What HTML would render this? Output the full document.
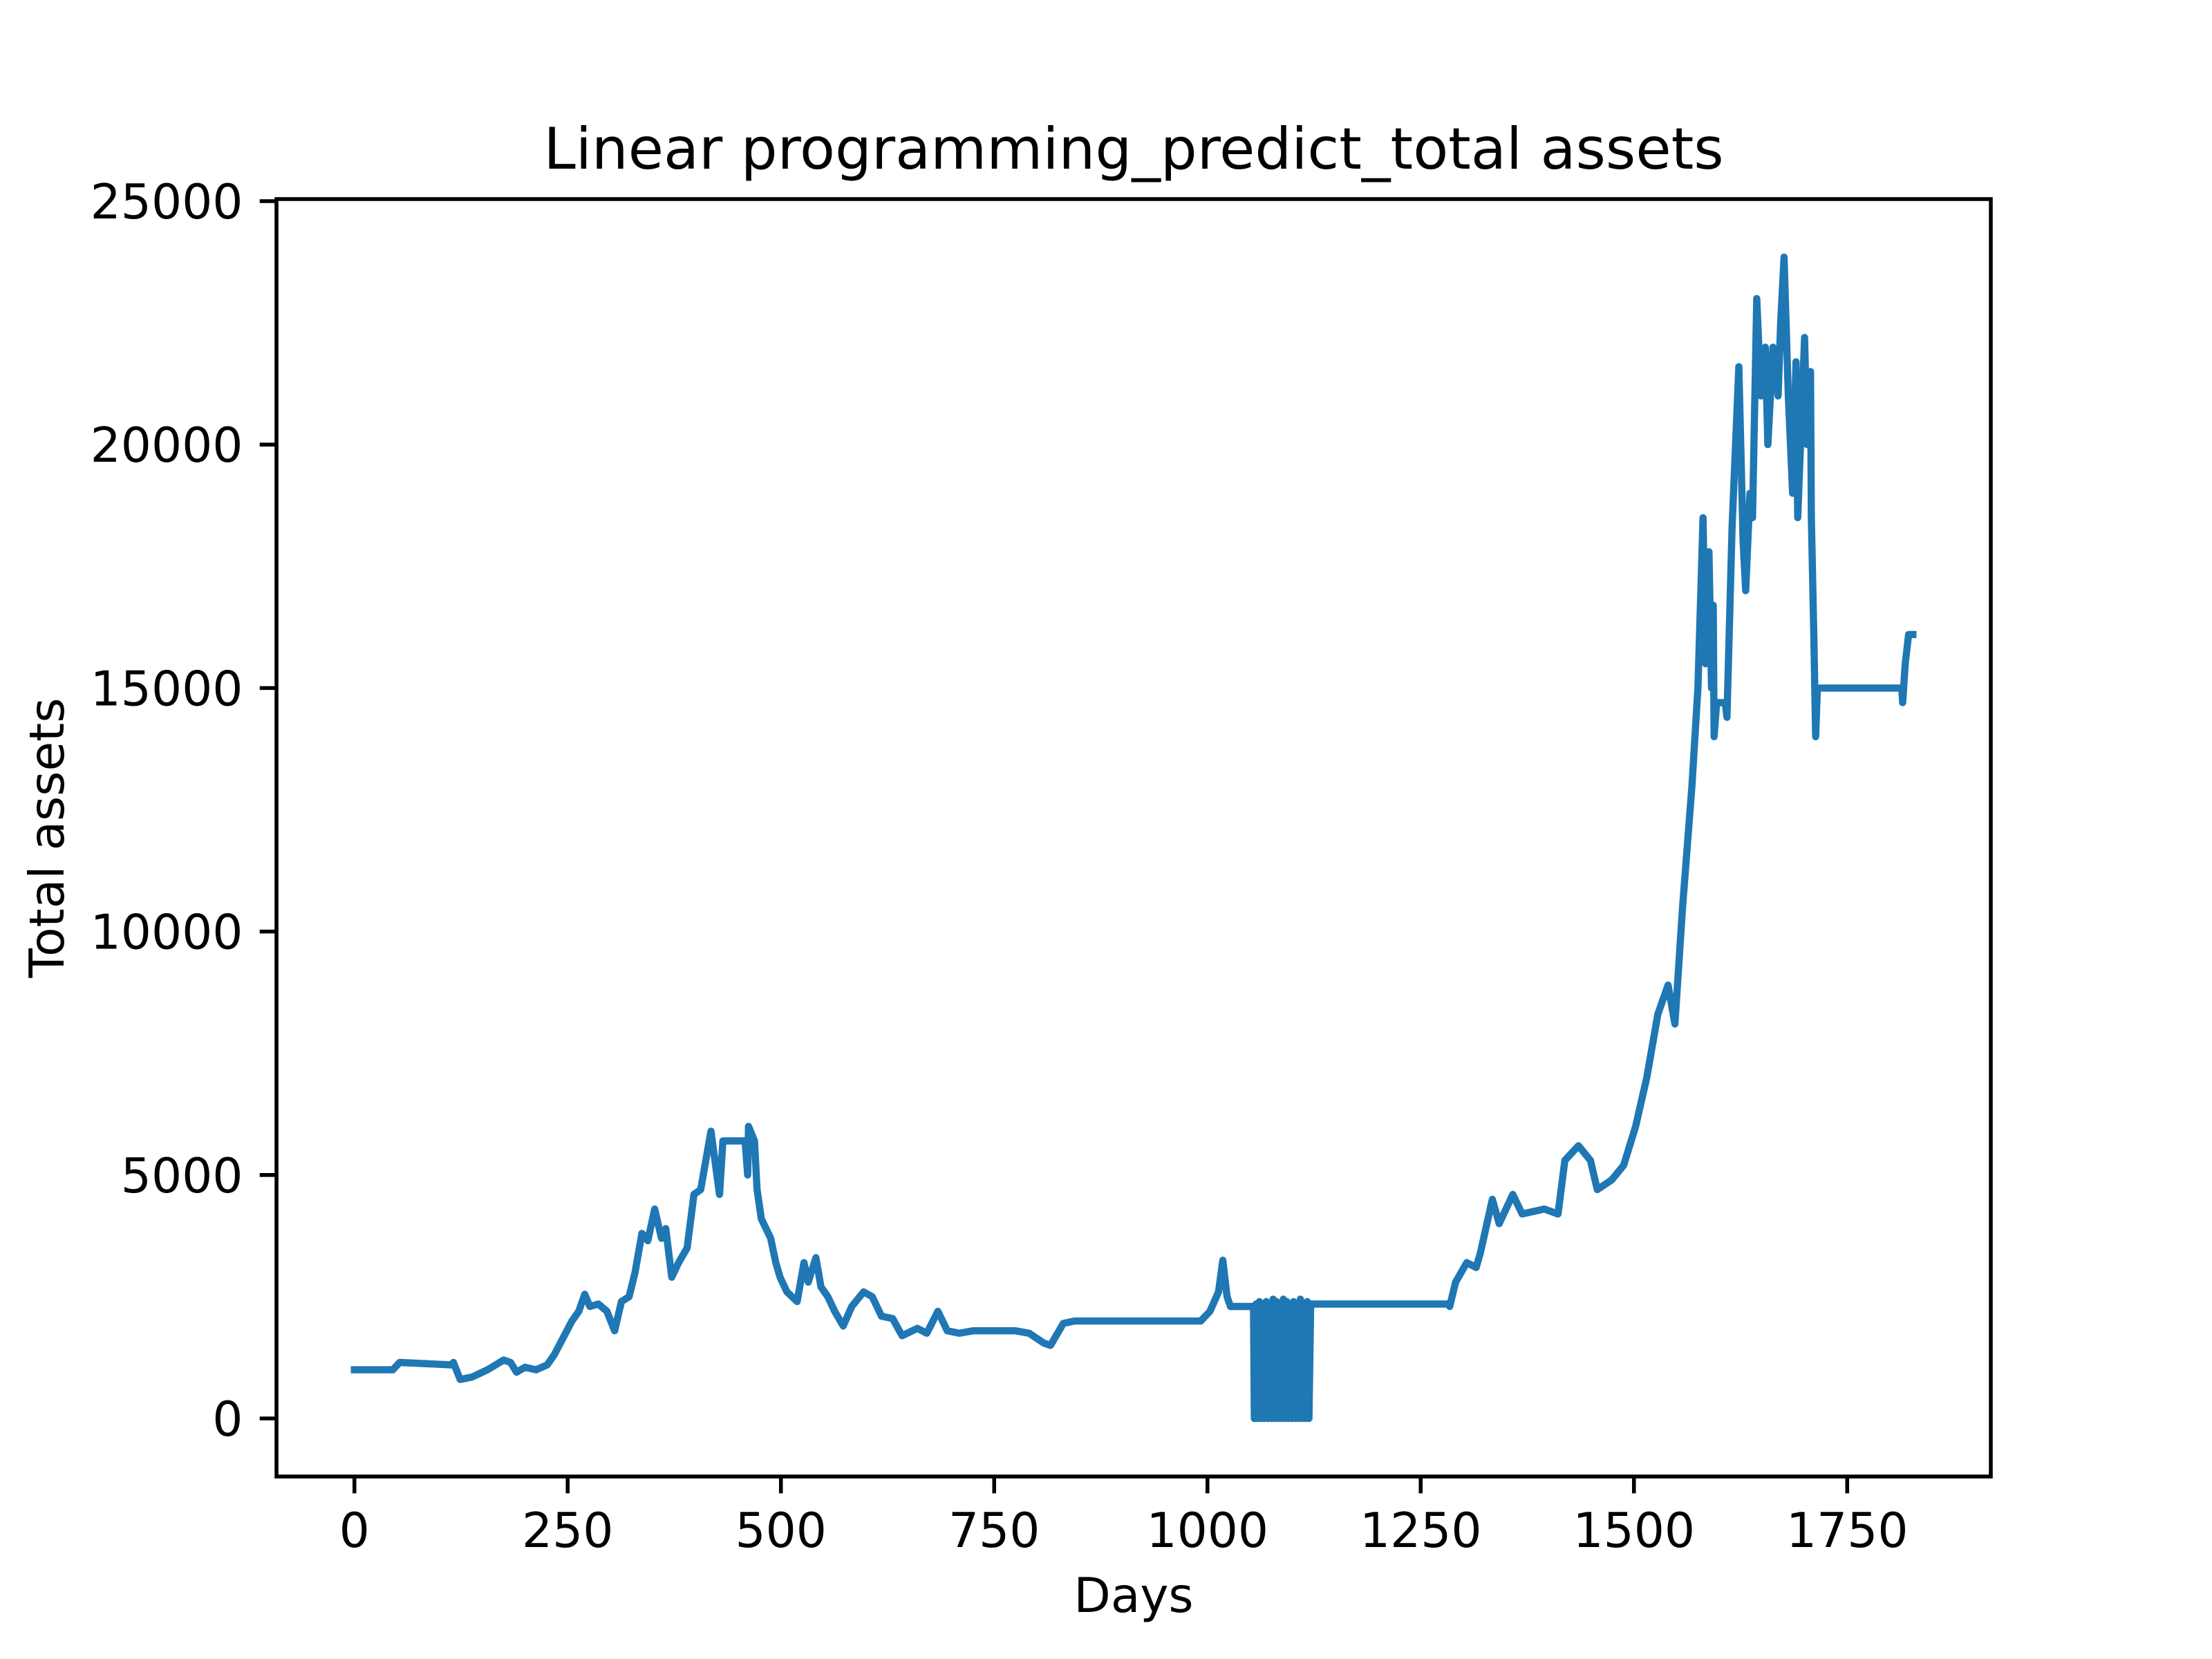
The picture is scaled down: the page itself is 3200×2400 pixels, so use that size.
<!DOCTYPE html>
<html><head><meta charset="utf-8"><style>
html,body{margin:0;padding:0;background:#fff;}
svg{display:block;}
text{font-family:"DejaVu Sans","Liberation Sans",sans-serif;fill:#000;}
</style></head>
<body>
<svg id="chart" width="3200" height="2400" viewBox="0 0 3200 2400" xmlns="http://www.w3.org/2000/svg">
<rect x="0" y="0" width="3200" height="2400" fill="#fff"/>
<text x="1640" y="244" font-size="83.3" text-anchor="middle">Linear programming_predict_total assets</text>
<text x="1640" y="2332" font-size="69.4" text-anchor="middle">Days</text>
<text transform="translate(92,1212) rotate(-90)" font-size="69.4" text-anchor="middle">Total assets</text>
<g id="ticks"></g>
<g id="series"></g>
<rect x="400" y="288" width="2480" height="1848" fill="none" stroke="#000" stroke-width="5.56"/>
</svg>
<script>
const days = [0,45,53,114,116,124,138,156,175,183,190,200,213,226,234,243,255,263,270,276,286,296,305,313,322,329,337,344,352,360,365,372,380,390,398,406,418,428,432,458,461,462,469,472,477,488,494,499,507,519,527,532,541,547,555,563,573,583,597,607,618,631,642,660,671,684,695,709,725,775,791,808,816,831,844,992,1003,1013,1018,1023,1027,1054,
1055,1057,1059,1061,1063,1065,1067,1069,1071,1073,1075,1077,1079,1081,1083,1085,1087,1089,1091,1093,1095,1097,1099,1101,1103,1105,1107,1109,1111,1113,1115,1117,1119,1121,1123,
1282,1284,1291,1304,1315,1320,1334,1342,1358,1369,1395,1411,1419,1435,1449,1457,1474,1488,1502,1515,1528,1540,1548,1557,1568,1575,1581,1584,1588,1591,1593,1594,1597,1607,1609,1615,1623,1628,1631,1636,1639,1644,1649,1654,1657,1663,1669,1672,1676,1681,1686,1690,1692,1700,1703,1707,1708,1711,1713,1715,1814,1815,1818,1822,1827];
const assets = [1000,1000,1150,1100,1150,800,850,1000,1200,1150,950,1050,1000,1100,1300,1600,2000,2200,2550,2300,2350,2200,1800,2400,2500,3000,3800,3650,4300,3700,3900,2900,3200,3500,4600,4700,5900,4600,5700,5700,5000,6000,5700,4700,4100,3700,3200,2900,2600,2400,3200,2800,3300,2700,2500,2200,1900,2300,2600,2500,2100,2050,1700,1850,1750,2200,1800,1750,1800,1800,1750,1550,1500,1950,2000,2000,2200,2600,3250,2500,2300,2300,
0,2350,0,2400,0,2350,0,2400,0,2350,0,2450,0,2400,0,2350,0,2450,0,2400,0,2350,0,2400,0,2350,0,2450,0,2350,0,2400,0,2350,2350,
2350,2300,2800,3200,3100,3400,4500,4000,4600,4200,4300,4200,5300,5600,5300,4700,4900,5200,6000,7000,8300,8900,8100,10500,13000,15000,18500,15500,17800,15000,16700,14000,14700,14700,14400,18300,21600,18000,17000,19000,18500,23000,21000,22000,20000,22000,21000,22500,23850,21000,19000,21700,18500,22200,20000,21500,18500,16000,14000,15000,15000,14700,15500,16100,16100];
const xTicks = [0,250,500,750,1000,1250,1500,1750];
const yTicks = [0,5000,10000,15000,20000,25000];

const X0=400,X1=2880,Y0=288,Y1=2136;
const xMin=-91.35,xMax=1918.35,yMin=-1192.5,yMax=25042.5;
function sx(d){return X0+(d-xMin)/(xMax-xMin)*(X1-X0);}
function sy(v){return Y1-(v-yMin)/(yMax-yMin)*(Y1-Y0);}
const NS="http://www.w3.org/2000/svg";
const tg=document.getElementById('ticks');
xTicks.forEach(t=>{
  const l=document.createElementNS(NS,'line');
  l.setAttribute('x1',sx(t));l.setAttribute('x2',sx(t));l.setAttribute('y1',Y1);l.setAttribute('y2',Y1+24.3);
  l.setAttribute('stroke','#000');l.setAttribute('stroke-width','5.56');
  
  
  tg.appendChild(l);
  const tx=document.createElementNS(NS,'text');
  tx.setAttribute('x',sx(t));tx.setAttribute('y',2238);tx.setAttribute('font-size','69.4');tx.setAttribute('text-anchor','middle');
  tx.textContent=t;
  
  
  tg.appendChild(tx);
});
yTicks.forEach(t=>{
  const l=document.createElementNS(NS,'line');
  l.setAttribute('x1',X0-24.3);l.setAttribute('x2',X0);l.setAttribute('y1',sy(t));l.setAttribute('y2',sy(t));
  l.setAttribute('stroke','#000');l.setAttribute('stroke-width','5.56');
  
  
  tg.appendChild(l);
  const tx=document.createElementNS(NS,'text');
  tx.setAttribute('x',X0-48.6);tx.setAttribute('y',sy(t)+25);tx.setAttribute('font-size','69.4');tx.setAttribute('text-anchor','end');
  tx.textContent=t;
  
  
  tg.appendChild(tx);
});
let d='';
for(let i=0;i<days.length;i++){d+=(i?'L':'M')+sx(days[i]).toFixed(1)+' '+sy(assets[i]).toFixed(1);}
const p=document.createElementNS(NS,'path');
p.setAttribute('d',d);p.setAttribute('fill','none');p.setAttribute('stroke','#1f77b4');
p.setAttribute('stroke-width','10.4');p.setAttribute('stroke-linejoin','round');p.setAttribute('stroke-linecap','square');


document.getElementById('series').appendChild(p);
</script>
</body></html>
